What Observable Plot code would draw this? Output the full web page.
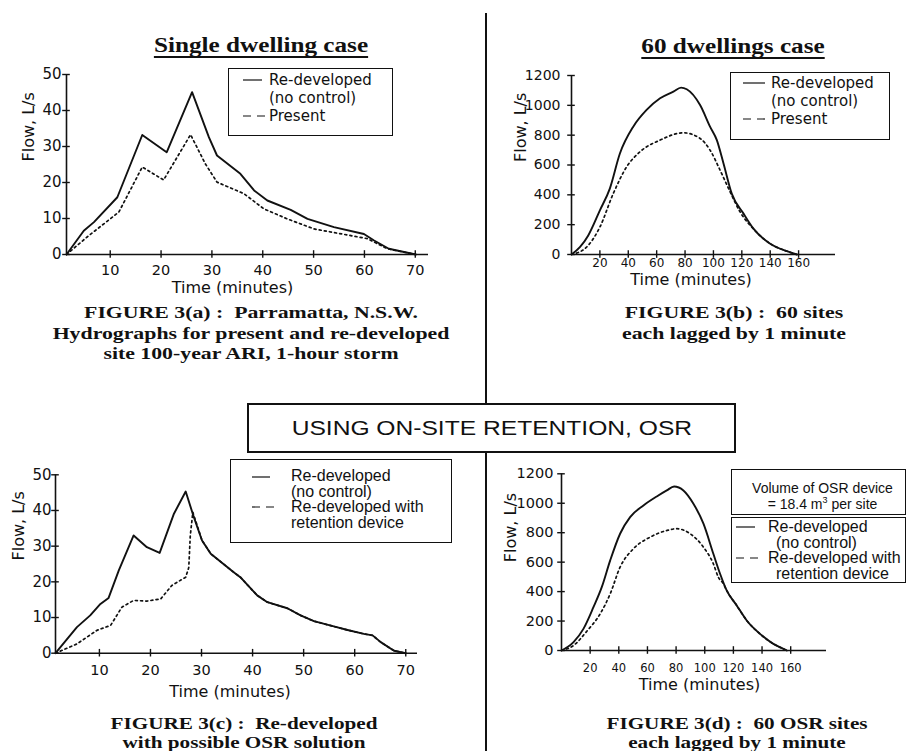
<!DOCTYPE html>
<html>
<head>
<meta charset="utf-8">
<script src="https://cdn.jsdelivr.net/npm/d3@7"></script>
<script src="https://cdn.jsdelivr.net/npm/@observablehq/plot@0.6"></script>
<style>
  html, body { margin: 0; padding: 0; background: #fff; }
  #page { position: relative; width: 906px; height: 751px; overflow: hidden; background: #fff; color: #111; }
  .abs { position: absolute; }
  .serif { font-family: "Liberation Serif", "Times New Roman", serif; font-weight: bold; white-space: pre; }
  .title { font-size: 20px; line-height: 24px; text-decoration: underline; text-underline-offset: 4px; text-decoration-thickness: 1.6px; transform: translateX(-50%) scaleX(1.26); text-align: center; }
  .cap { text-align: center; transform: translateX(-50%) scaleX(1.245); }
  .box { box-sizing: border-box; border: 1.5px solid #111; background: #fff; }
  .dv { font-family: "DejaVu Sans", sans-serif; font-size: 15px; line-height: 18px; white-space: nowrap; }
  .ar { font-family: "Liberation Sans", Arial, sans-serif; font-size: 16px; line-height: 15.5px; white-space: nowrap; }
</style>
</head>
<body>
<div id="page"></div>
<script>
// ---------------- DATA ----------------
// Panel (a): single dwelling, time (min) vs flow (L/s)
const singleRedeveloped = [[1.4,0],[4.8,6.6],[6.8,9],[11.4,15.9],[16.3,33.2],[21.1,28.4],[26.1,45.1],[29.4,32.6],[31,27.5],[35.6,22.4],[38.3,17.8],[40.9,15],[45.5,12.4],[48.8,9.9],[54,7.6],[59.9,5.7],[61.9,3.9],[64.8,1.6],[70.1,0]];
const singlePresent = [[1.4,0],[5.4,4.8],[11.7,11.8],[16.3,24.3],[20.5,20.7],[25.8,33.3],[28.7,25.2],[31,20.1],[36.3,16.9],[40.2,12.7],[44.8,9.9],[50.1,7.1],[60.6,4.4],[64.5,1.6],[70.1,0]];
// Panel (b): 60 dwellings
const sixtyRedeveloped = [[0,0],[5.9,49],[11.8,128],[20,296],[27,442],[34.1,677],[43.5,857],[52.9,969],[62.4,1047],[71.8,1092],[77.2,1119],[81.2,1108],[90.6,1002],[97.6,857],[102.4,767],[107.1,610],[112.9,408],[121.2,274],[128.2,173],[140,72],[151.8,22],[158.8,0]];
const sixtyPresent = [[0,0],[10.6,49],[20,184],[29.4,408],[38.8,587],[48.2,688],[62.4,767],[78.8,816],[90.6,778],[97.6,700],[104.7,565],[111.8,419],[118.8,285],[128,173],[140,72],[151.8,22],[158.8,0]];
// Panel (c): single dwelling with OSR
const osrSingleRedeveloped = [[1.4,0],[5.6,7.3],[8.2,10.6],[10.2,13.8],[11.8,15.5],[13.8,23.2],[16.7,33],[19.3,29.7],[21.8,28.1],[24.6,39.1],[26.9,45.3],[28.5,38.1],[30.1,31.6],[31.8,27.9],[36.3,22.7],[37.6,21.3],[40.9,16.2],[42.9,14.3],[46.8,12.6],[49.4,10.6],[52,9],[55.9,7.5],[58.6,6.5],[61.8,5.4],[63.5,5],[65.1,3.1],[67.7,0.7],[70,0]];
const osrSingleRetention = [[1.4,0],[5.6,2.6],[9.5,6.4],[12.2,7.8],[14.4,12.9],[16.7,14.8],[19.3,14.6],[22,15.2],[24.2,19],[26.9,21.3],[27.5,24],[27.8,33],[28.3,39.5],[30.1,31.6],[31.8,27.9],[36.3,22.7],[37.6,21.3],[40.9,16.2],[42.9,14.3],[46.8,12.6],[49.4,10.6],[52,9],[55.9,7.5],[58.6,6.5],[61.8,5.4],[63.5,5],[65.1,3.1],[67.7,0.7],[70,0]];
// Panel (d): 60 OSR sites
const osrSixtyRedeveloped = [[0,0],[8.4,57],[15.3,147],[22.3,294],[28.1,430],[34,612],[40.9,793],[47.9,906],[57.2,985],[66.5,1046],[73.5,1087],[78.6,1114],[85.1,1087],[92.1,997],[99.1,861],[106,657],[110.7,521],[115.3,408],[122.3,306],[129.3,204],[138.6,113],[147.9,45],[154.9,11],[157.2,0]];
const osrSixtyRetention = [[0,0],[8.4,34],[17.7,131],[27,249],[34,385],[40.9,566],[50.2,691],[61.9,770],[73.5,815],[80.5,827],[89.8,793],[99.1,702],[106,589],[109.5,498],[113,453],[115.3,408],[122.3,306],[129.3,204],[138.6,113],[147.9,45],[154.9,11],[157.2,0]];
// Tick values
const ticksSingleX = [10, 20, 30, 40, 50, 60, 70];
const ticksSingleY = [0, 10, 20, 30, 40, 50];
const ticksSixtyX = [20, 40, 60, 80, 100, 120, 140, 160];
const ticksSixtyY = [0, 200, 400, 600, 800, 1000, 1200];
// Texts
const xTitle = "Time (minutes)";
const yTitle = "Flow, L/s";

// ---------------- DRAWING ----------------
const INK = "#111";
const page = document.getElementById("page");

function add(html, cls, css) {
  const d = document.createElement("div");
  d.className = "abs " + (cls || "");
  Object.assign(d.style, css || {});
  d.innerHTML = html;
  page.appendChild(d);
  return d;
}

// vertical divider
const divider = document.createElementNS("http://www.w3.org/2000/svg", "svg");
divider.setAttribute("width", 906); divider.setAttribute("height", 751);
divider.style.position = "absolute"; divider.style.left = "0"; divider.style.top = "0";
divider.innerHTML = '<line x1="486" y1="13" x2="486" y2="751" stroke="#111" stroke-width="2"/>';
page.appendChild(divider);

function panel(cfg) {
  const x0 = cfg.xDomain[0], y0 = cfg.yDomain[0];
  const innerW = cfg.width - cfg.mL - cfg.mR;
  const innerH = cfg.height - cfg.mT - cfg.mB;
  const TICK = 3.8; // half-length of the crossing tick marks, px
  const kx = (cfg.xDomain[1] - cfg.xDomain[0]) / innerW * TICK;
  const ky = (cfg.yDomain[1] - cfg.yDomain[0]) / innerH * TICK;
  const chart = Plot.plot({
    width: cfg.width, height: cfg.height,
    marginLeft: cfg.mL, marginRight: cfg.mR, marginTop: cfg.mT, marginBottom: cfg.mB,
    x: {domain: cfg.xDomain},
    y: {domain: cfg.yDomain},
    clip: false,
    style: {background: "transparent", color: INK, fontFamily: "DejaVu Sans", fontSize: "15px", overflow: "visible"},
    marks: [
      Plot.ruleY([y0], {stroke: INK, strokeWidth: 1.6}),
      Plot.ruleX([x0], {stroke: INK, strokeWidth: 1.6}),
      Plot.ruleX(cfg.xTicks, {x: d => d, y1: () => y0 - ky, y2: () => y0 + ky, stroke: INK, strokeWidth: 1.4}),
      Plot.ruleY(cfg.yTicks, {y: d => d, x1: () => x0 - kx, x2: () => x0 + kx, stroke: INK, strokeWidth: 1.4}),
      Plot.axisX({ticks: cfg.xTicks, tickSize: 0, tickPadding: cfg.xPad, fontSize: cfg.xFont, tickFormat: d => String(d), label: null}),
      Plot.axisY({ticks: cfg.yTicks, tickSize: 0, tickPadding: cfg.yPad, fontSize: cfg.yFont, tickFormat: d => String(d), label: null}),
      Plot.text([xTitle], {text: d => d, frameAnchor: "bottom", dx: cfg.xtDx, dy: cfg.xtDy, fontSize: 16}),
      Plot.text([yTitle], {text: d => d, frameAnchor: "left", rotate: -90, dx: cfg.ytDx, dy: cfg.ytDy, fontSize: 16}),
      Plot.line(cfg.solid, {x: d => d[0], y: d => d[1], stroke: INK, strokeWidth: 1.9, curve: cfg.curve}),
      Plot.line(cfg.dotted, {x: d => d[0], y: d => d[1], stroke: INK, strokeWidth: 1.7, strokeDasharray: "2,3.2", curve: cfg.curve})
    ]
  });
  const wrap = document.createElement("div");
  wrap.className = "abs";
  wrap.style.left = cfg.left + "px";
  wrap.style.top = cfg.top + "px";
  wrap.appendChild(chart);
  page.appendChild(wrap);
}

panel({left: 0, top: 60, width: 453, height: 240, mL: 66, mR: 25, mT: 14, mB: 46,
  xDomain: [1.4, 72.6], yDomain: [0, 50], xTicks: ticksSingleX, yTicks: ticksSingleY,
  xFont: 14.5, yFont: 15, xPad: 10, yPad: 5, xtDx: -15, xtDy: 38.5, ytDx: -38, ytDy: -3,
  solid: singleRedeveloped, dotted: singlePresent, curve: "linear"});

panel({left: 453, top: 60, width: 453, height: 240, mL: 118, mR: 71, mT: 15, mB: 46,
  xDomain: [0, 186], yDomain: [0, 1200], xTicks: ticksSixtyX, yTicks: ticksSixtyY,
  xFont: 12, yFont: 14, xPad: 4, yPad: 11, xtDx: -12.5, xtDy: 30, ytDx: -51, ytDy: -3,
  solid: sixtyRedeveloped, dotted: sixtyPresent, curve: "monotone-x"});

panel({left: 0, top: 440, width: 453, height: 270, mL: 55, mR: 36, mT: 34.3, mB: 57.3,
  xDomain: [1.4, 72.3], yDomain: [0, 50], xTicks: ticksSingleX, yTicks: ticksSingleY,
  xFont: 14.5, yFont: 15, xPad: 12, yPad: 4, xtDx: -6.5, xtDy: 44, ytDx: -37, ytDy: -3.5,
  solid: osrSingleRedeveloped, dotted: osrSingleRetention, curve: "linear"});

panel({left: 453, top: 440, width: 453, height: 270, mL: 108, mR: 80, mT: 33.3, mB: 60,
  xDomain: [0, 185], yDomain: [0, 1200], xTicks: ticksSixtyX, yTicks: ticksSixtyY,
  xFont: 11.5, yFont: 14.5, xPad: 13, yPad: 8, xtDx: 5.5, xtDy: 39, ytDx: -51, ytDy: 0,
  solid: osrSixtyRedeveloped, dotted: osrSixtyRetention, curve: "monotone-x"});

// titles
add("Single dwelling case", "serif title", {left: "261px", top: "33px"});
add("60 dwellings case", "serif title", {left: "733px", top: "34px"});

// captions
add("FIGURE 3(a) :  Parramatta, N.S.W.\nHydrographs for present and re-developed\nsite 100-year ARI, 1-hour storm", "serif cap",
  {left: "251px", top: "302px", fontSize: "17.5px", lineHeight: "20.7px"});
add("FIGURE 3(b) :  60 sites\neach lagged by 1 minute", "serif cap",
  {left: "734px", top: "302px", fontSize: "17.5px", lineHeight: "20.5px"});
add("FIGURE 3(c) :  Re-developed\nwith possible OSR solution", "serif cap",
  {left: "244px", top: "714px", fontSize: "17px", lineHeight: "19px"});
add("FIGURE 3(d) :  60 OSR sites\neach lagged by 1 minute", "serif cap",
  {left: "737px", top: "714px", fontSize: "17px", lineHeight: "19px"});

// legends (a), (b)
add("", "box", {left: "228px", top: "68px", width: "165px", height: "68px"});
add("Re-developed<br>(no control)<br>Present", "dv", {left: "269px", top: "72px", lineHeight: "17.8px"});
add("", "box", {left: "730px", top: "72px", width: "160px", height: "68px"});
add("Re-developed<br>(no control)<br>Present", "dv", {left: "771px", top: "74px", lineHeight: "18px"});

// legend (c)
add("", "box", {left: "230px", top: "459px", width: "222px", height: "84px"});
add("Re-developed<br>(no control)<br>Re-developed with<br>retention device", "ar", {left: "291px", top: "468.3px"});

// legend (d)
add('Volume of OSR device<br>= 18.4 m<span style="font-size:9px;vertical-align:6px;line-height:0">3</span> per site', "box",
  {left: "731px", top: "469px", width: "175px", height: "46px", overflow: "hidden", fontFamily: "Liberation Sans, Arial, sans-serif",
   fontSize: "14px", lineHeight: "16px", textAlign: "center", paddingTop: "10px", paddingLeft: "8px", whiteSpace: "nowrap"});
add("", "box", {left: "731px", top: "517px", width: "175px", height: "66px"});
add('Re-developed<br><span style="padding-left:8px">(no control)</span><br>Re-developed with<br><span style="padding-left:8px">retention device</span>', "ar",
  {left: "768px", top: "519.3px"});

// centre banner
add('<span style="display:inline-block;transform:scaleX(1.2)">USING ON-SITE RETENTION, OSR</span>', "",
  {left: "247px", top: "403px", width: "489px", height: "50px", boxSizing: "border-box",
   border: "2px solid #111", background: "#fff", display: "flex", alignItems: "center", justifyContent: "center",
   fontFamily: "Liberation Sans, Arial, sans-serif", fontSize: "20.5px", whiteSpace: "nowrap"});

// legend line samples
const samples = document.createElementNS("http://www.w3.org/2000/svg", "svg");
samples.setAttribute("width", 906); samples.setAttribute("height", 751);
samples.style.position = "absolute"; samples.style.left = "0"; samples.style.top = "0";
samples.innerHTML = `
  <g stroke="#111" stroke-width="1.2" fill="none">
    <line x1="243" y1="80" x2="262" y2="80"/>
    <line x1="243" y1="116" x2="266" y2="116" stroke-dasharray="8,6"/>
    <line x1="743" y1="83" x2="765" y2="83"/>
    <line x1="743" y1="119" x2="765" y2="119" stroke-dasharray="8,6"/>
    <line x1="252" y1="477" x2="270" y2="477"/>
    <line x1="252" y1="507" x2="274" y2="507" stroke-dasharray="8,6"/>
    <line x1="736" y1="527" x2="755" y2="527"/>
    <line x1="736" y1="558" x2="759" y2="558" stroke-dasharray="8,6"/>
  </g>`;
page.appendChild(samples);
</script>
</body>
</html>
